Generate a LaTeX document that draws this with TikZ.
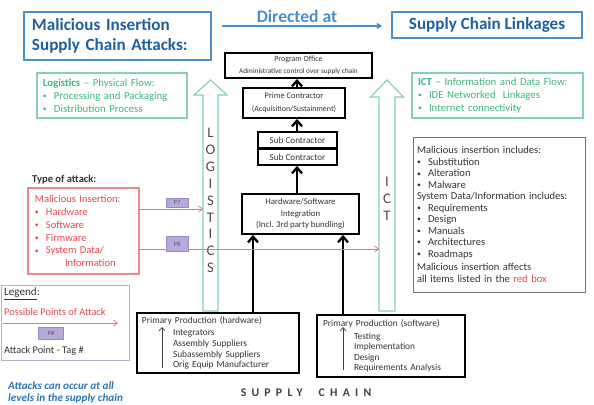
\documentclass[tikz,border=0pt]{standalone}
\usepackage{fontspec}
\setmainfont{Carlito}
\usetikzlibrary{arrows.meta}
\usepackage{xcolor}
\definecolor{ttlblue}{HTML}{1F5F9E}
\definecolor{edgeblue}{HTML}{4A8FCB}
\definecolor{noteblue}{HTML}{2E74B5}
\definecolor{mint}{HTML}{86D0B9}
\definecolor{leafgreen}{HTML}{3DB57D}
\definecolor{atkred}{HTML}{E2474F}
\definecolor{pinkline}{HTML}{E98A8C}
\definecolor{tagfill}{HTML}{B8A9DB}
\definecolor{tagedge}{HTML}{9A89C9}
\definecolor{legedge}{HTML}{B4B4C8}
\newcommand{\itm}{\makebox[3.3mm][l]{\raisebox{.15ex}{\fontsize{6.5}{7}\selectfont\textbullet}}}

\begin{document}
\begin{tikzpicture}[
  x=0.03cm,y=-0.03cm,
  stage/.style={draw=black,line width=1.6pt,inner sep=0pt,align=center,text=black!80},
  flow/.style={line width=2pt,-{Straight Barb[length=1.7mm,width=3mm]}},
  headbox/.style={draw=edgeblue,line width=1.2pt,text=ttlblue,
    font=\fontsize{14.6}{17}\selectfont\bfseries},
  greenbox/.style={draw=mint,line width=1pt,align=left,text=leafgreen,
    inner xsep=.18cm,font=\fontsize{9.2}{11}\selectfont},
  atk/.style={draw=atkred!75,line width=.7pt,-{Straight Barb[length=1.1mm,width=1.8mm]}},
  tagbox/.style={draw=tagedge,fill=tagfill,inner sep=0pt,minimum width=.66cm,
    font=\fontsize{5.5}{6}\selectfont,text=black!65},
  hollow/.style={draw=mint,line width=1pt,line join=miter},
  gword/.style={font=\fontsize{12.5}{14.4}\selectfont,text=black!70,align=center,inner sep=0pt},
  lbl/.style={anchor=west,inner sep=0pt,text=black!80},
  thinup/.style={draw=black!75,line width=.6pt,-{Straight Barb[length=1mm,width=1.8mm]}}
]
  \useasboundingbox (0,0) rectangle (594,405);

  \node[headbox,align=left,text width=5.13cm,inner xsep=.24cm,minimum height=1.44cm]
    (title) at (117.5,36) {Malicious Insertion\\Supply Chain Attacks:};
  \node[headbox,minimum width=5.7cm,minimum height=.78cm] (links) at (487,25)
    {Supply Chain Linkages};
  \node[text=edgeblue,font=\fontsize{15}{17}\selectfont\bfseries] (dirtext) at (297,16)
    {Directed at};
  \coordinate (dirL) at (222,26);
  \draw[edgeblue,line width=1pt,-{Triangle[length=1.6mm,width=1.8mm]},shorten >=.27cm]
    (dirL) -- (links.west |- dirL);

  \node[greenbox,text width=4.14cm,minimum height=1.35cm] (logbox) at (112,95.5)
    {\textbf{Logistics} -- Physical Flow:\\\itm Processing and Packaging\\\itm Distribution Process};
  \node[greenbox,text width=4.77cm,minimum height=1.35cm] (ictbox) at (497.5,95.5)
    {\textbf{ICT} -- Information and Data Flow:\\\itm IDE Networked\ \ Linkages\\\itm Internet connectivity};

  \draw[hollow] (203,311) -- (203,95) -- (194,95) -- (210.5,80) -- (227,95) -- (218,95)
    -- (218,311) -- cycle;
  \draw[hollow] (379,311) -- (379,97) -- (370.5,97) -- (387,80) -- (403.5,97) -- (395,97)
    -- (395,311) -- cycle;
  \node[gword] (logword) at (210.5,200.5) {L\\O\\G\\I\\S\\T\\I\\C\\S};
  \node[gword] (ictword) at (387,199) {I\\C\\T};

  \node[stage,minimum width=4.41cm,minimum height=.75cm,font=\fontsize{6.5}{10}\selectfont]
    (prog) at (298.5,65.5) {{\fontsize{6.8}{8}\selectfont Program Office}\\
    {\fontsize{6.2}{7.5}\selectfont Administrative control over supply chain}};
  \node[stage,minimum width=3.06cm,minimum height=.9cm,font=\fontsize{7.2}{11}\selectfont]
    (prime) at (294,103) {Prime Contractor\\{\fontsize{6.8}{8}\selectfont(Acquisition/Sustainment)}};
  \node[stage,minimum width=2.37cm,minimum height=.48cm,font=\fontsize{7.8}{9}\selectfont]
    (sub1) at (297.5,140) {Sub Contractor};
  \node[stage,minimum width=2.37cm,minimum height=.48cm,font=\fontsize{7.8}{9}\selectfont]
    (sub2) at (297.5,157) {Sub Contractor};
  \node[stage,minimum width=3.51cm,minimum height=1.2cm,font=\fontsize{7.5}{9.8}\selectfont]
    (hwsw) at (300.5,214) {Hardware/Software\\Integration\\(Incl. 3rd party bundling)};
  \node[stage,align=left,text width=4.56cm,inner xsep=.15cm,minimum height=1.8cm,
    font=\fontsize{8}{9}\selectfont] (hw) at (218,343)
    {Primary Production (hardware)\\[1.5pt]\hspace*{.93cm}Integrators\\
    \hspace*{.93cm}Assembly Suppliers\\\hspace*{.93cm}Subassembly Suppliers\\
    \hspace*{.93cm}Orig Equip Manufacturer};
  \node[stage,align=left,text width=4.08cm,inner xsep=.18cm,minimum height=1.86cm,
    font=\fontsize{8}{9}\selectfont] (sw) at (391,346)
    {Primary Production (software)\\[1.5pt]\hspace*{.93cm}Testing\\
    \hspace*{.93cm}Implementation\\\hspace*{.93cm}Design\\
    \hspace*{.93cm}Requirements Analysis};

  \coordinate (spine) at (297,0);
  \coordinate (hwup) at (253,0);
  \coordinate (swup) at (343,0);
  \draw[flow] (prime.north -| spine) -- (prog.south -| spine);
  \draw[flow] (sub1.north -| spine) -- (prime.south -| spine);
  \draw[flow] (hwsw.north -| spine) -- (sub2.south -| spine);
  \draw[flow] (hw.north -| hwup) -- (hwsw.south -| hwup);
  \draw[flow] (sw.north -| swup) -- (hwsw.south -| swup);
  \coordinate (hwa) at (162,368);
  \coordinate (hwb) at (162,327);
  \coordinate (swa) at (343,370);
  \coordinate (swb) at (343,327);
  \draw[thinup] (hwa) -- (hwb);
  \draw[thinup] (swa) -- (swb);

  \node[draw=black!55,line width=.8pt,align=left,text width=4.92cm,inner xsep=.12cm,
    minimum height=4.65cm,text=black!80,font=\fontsize{9}{9.8}\selectfont] (incl) at (499,214.5)
    {Malicious insertion includes:\\\itm Substitution\\\itm Alteration\\\itm Malware\\
    System Data/Information includes:\\\itm Requirements\\\itm Design\\\itm Manuals\\
    \itm Architectures\\\itm Roadmaps\\[2pt]Malicious insertion affects\\
    all items listed in the \textcolor{atkred}{red box}};

  \node[lbl,font=\fontsize{9}{11}\selectfont\bfseries] (typeatk) at (32,180) {Type of attack:};
  \node[draw=pinkline,line width=.9pt,align=left,text width=2.91cm,inner xsep=.21cm,
    minimum height=2.58cm,text=atkred,font=\fontsize{9}{11}\selectfont] (redbox) at (83.5,231)
    {Malicious Insertion:\\\itm Hardware\\\itm Software\\\itm Firmware\\\itm System Data/\\
    \hspace*{.9cm}Information};

  \coordinate (l7) at (203,209);
  \coordinate (l8) at (379,249);
  \draw[atk] (redbox.east |- l7) -- (l7);
  \draw[atk] (redbox.east |- l8) -- (l8);
  \node[tagbox,minimum height=.27cm] (p7) at (177,202.5) {P7};
  \node[tagbox,minimum height=.45cm] (p8) at (177,244) {P8};

  \node[draw=legedge,line width=.8pt,minimum width=3.84cm,minimum height=2.25cm] (legbox)
    at (65,322.5) {};
  \node[lbl,font=\fontsize{9.5}{11}\selectfont] (legtitle) at (4,294) {\underline{Legend}:};
  \node[lbl,text=atkred,font=\fontsize{8.8}{11}\selectfont] (legpts) at (4,312)
    {Possible Points of Attack};
  \coordinate (lgA) at (3,323);
  \coordinate (lgB) at (118,323);
  \draw[atk] (lgA) -- (lgB);
  \node[tagbox,minimum width=.75cm,minimum height=.36cm] (ptag) at (51,333) {P\#};
  \node[lbl,font=\fontsize{8.8}{11}\selectfont] (legtag) at (4,351) {Attack Point - Tag \#};

  \node[anchor=north west,inner sep=0pt,align=left,text=noteblue,
    font=\fontsize{9.5}{11}\selectfont\bfseries\itshape] (note) at (8,381)
    {Attacks can occur at all\\levels in the supply chain};
  \node[text=black!75,font=\fontsize{10}{12}\selectfont\bfseries\addfontfeature{LetterSpace=45}]
    (chain) at (306,393) {SUPPLY\ \ CHAIN};
\end{tikzpicture}
\end{document}
